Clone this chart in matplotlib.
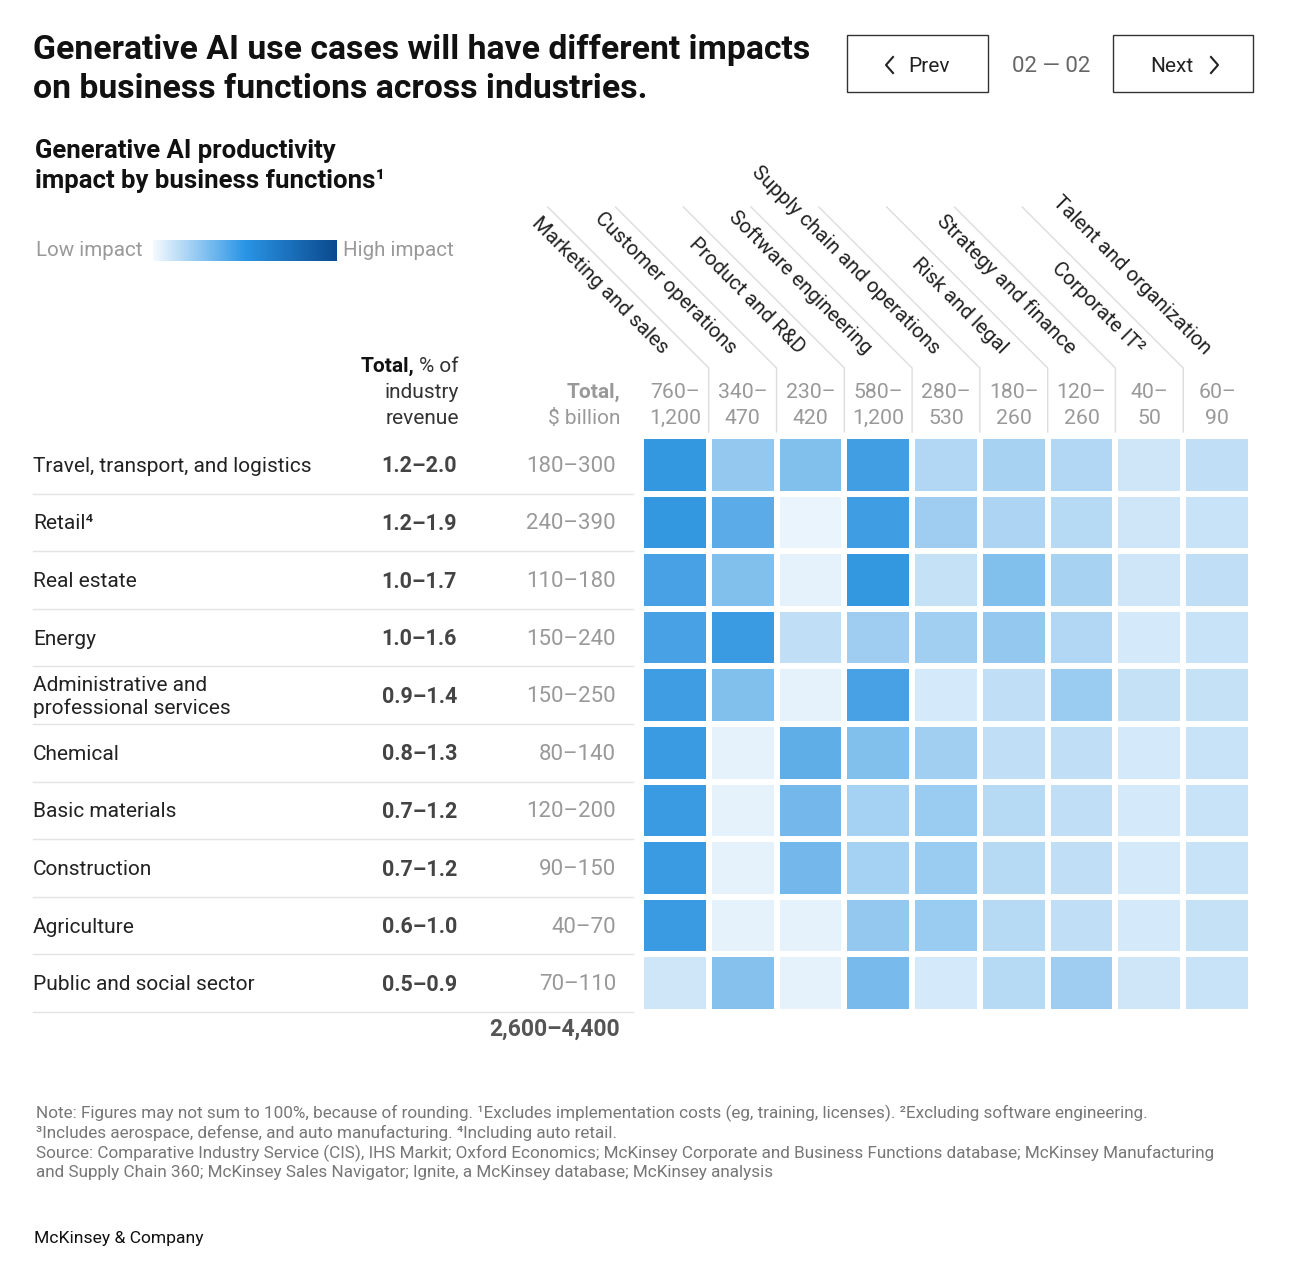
import matplotlib.pyplot as plt
from matplotlib.colors import LinearSegmentedColormap
from matplotlib.patches import Rectangle
import numpy as np

plt.rcParams['font.family'] = ['Roboto', 'DejaVu Sans']

W, H = 1292, 1267

industries = ["Travel, transport, and logistics", "Retail\u2074", "Real estate", "Energy",
              "Administrative and\nprofessional services", "Chemical", "Basic materials",
              "Construction", "Agriculture", "Public and social sector"]
pct_revenue = ["1.2\u20132.0", "1.2\u20131.9", "1.0\u20131.7", "1.0\u20131.6", "0.9\u20131.4",
               "0.8\u20131.3", "0.7\u20131.2", "0.7\u20131.2", "0.6\u20131.0", "0.5\u20130.9"]
usd_total = ["180\u2013300", "240\u2013390", "110\u2013180", "150\u2013240", "150\u2013250",
             "80\u2013140", "120\u2013200", "90\u2013150", "40\u201370", "70\u2013110"]
grand_total = "2,600\u20134,400"

functions = ["Marketing and sales", "Customer operations", "Product and R&D",
             "Software engineering", "Supply chain and operations", "Risk and legal",
             "Strategy and finance", "Corporate IT\u00b2", "Talent and organization"]
func_total = ["760\u2013\n1,200", "340\u2013\n470", "230\u2013\n420", "580\u2013\n1,200",
              "280\u2013\n530", "180\u2013\n260", "120\u2013\n260", "40\u2013\n50", "60\u2013\n90"]

# impact index read from the cell shading, 0 = lightest, 1 = darkest cell
impact = np.array([
    [0.95, 0.45, 0.55, 0.88, 0.30, 0.35, 0.30, 0.15, 0.22],
    [0.95, 0.75, 0.00, 0.90, 0.40, 0.32, 0.27, 0.15, 0.18],
    [0.85, 0.55, 0.02, 0.95, 0.20, 0.55, 0.35, 0.15, 0.22],
    [0.85, 0.92, 0.22, 0.40, 0.38, 0.45, 0.30, 0.12, 0.18],
    [0.90, 0.55, 0.02, 0.85, 0.12, 0.22, 0.42, 0.20, 0.20],
    [0.92, 0.02, 0.72, 0.55, 0.38, 0.22, 0.22, 0.12, 0.18],
    [0.92, 0.02, 0.62, 0.36, 0.42, 0.27, 0.22, 0.12, 0.18],
    [0.92, 0.02, 0.62, 0.36, 0.42, 0.27, 0.22, 0.12, 0.18],
    [0.92, 0.03, 0.03, 0.45, 0.42, 0.27, 0.22, 0.12, 0.20],
    [0.15, 0.52, 0.03, 0.60, 0.12, 0.27, 0.40, 0.15, 0.18],
])

cell_cmap = LinearSegmentedColormap.from_list("cells", ["#eaf4fc", "#2b93e0"])
legend_cmap = LinearSegmentedColormap.from_list("leg", ["#f5fafe", "#2a95e6", "#0b4a8e"])

fig = plt.figure(figsize=(W / 100, H / 100), dpi=100)
ax0 = fig.add_axes([0, 0, 1, 1])
ax0.set_xlim(0, W)
ax0.set_ylim(H, 0)
ax0.axis('off')

# heatmap grid
gx0, gx1, gy0, gy1 = 641, 1251, 436, 1012
hm = fig.add_axes([gx0 / W, 1 - gy1 / H, (gx1 - gx0) / W, (gy1 - gy0) / H])
hm.pcolormesh(impact, cmap=cell_cmap, vmin=0, vmax=1, edgecolors='white', linewidth=3)
hm.set_xlim(0, impact.shape[1])
hm.set_ylim(impact.shape[0], 0)
hm.axis('off')

colw = (gx1 - gx0) / len(functions)
rowh = (gy1 - gy0) / len(industries)
xb = [gx0 + j * colw for j in range(len(functions) + 1)]

# title
ax0.text(33, 69, "Generative AI use cases will have different impacts\non business functions across industries.",
         fontsize=24.3, fontweight='bold', color='#111111', va='center', linespacing=1.28)

# nav buttons
for bx0, bx1 in [(847, 988), (1113, 1253)]:
    ax0.add_patch(Rectangle((bx0, 35), bx1 - bx0, 57, fill=False, edgecolor='#333333', lw=1))
ax0.plot([893, 886, 893], [57, 65, 73], color='#222222', lw=1.5)
ax0.text(908, 66, "Prev", fontsize=15, va='center', color='#222222')
ax0.plot([1211, 1218, 1211], [57, 65, 73], color='#222222', lw=1.5)
ax0.text(1150, 66, "Next", fontsize=15, va='center', color='#222222')
ax0.text(1051, 66, "02 \u2014 02", fontsize=16, va='center', ha='center', color='#666666')

# subtitle and legend
ax0.text(35, 166, "Generative AI productivity\nimpact by business functions\u00b9",
         fontsize=18.5, fontweight='bold', color='#111111', va='center', linespacing=1.25)
ax0.text(36, 250, "Low impact", fontsize=14.8, color='#999999', va='center')
ax0.text(343, 250, "High impact", fontsize=14.8, color='#999999', va='center')
lg = fig.add_axes([153 / W, 1 - 261 / H, 184 / W, 21 / H])
lg.imshow(np.linspace(0, 1, 256)[None, :], aspect='auto', cmap=legend_cmap)
lg.axis('off')

# left column headers
renderer = fig.canvas.get_renderer()
t = ax0.text(459, 366, "% of", fontsize=15, color='#333333', ha='right', va='center')
w_pct = t.get_window_extent(renderer).width
ax0.text(459 - w_pct - 5, 366, "Total,", fontsize=15, fontweight='bold', color='#111111',
         ha='right', va='center')
ax0.text(459, 392, "industry", fontsize=15, color='#333333', ha='right', va='center')
ax0.text(459, 418, "revenue", fontsize=15, color='#333333', ha='right', va='center')
ax0.text(620, 392, "Total,", fontsize=15, fontweight='bold', color='#999999', ha='right', va='center')
ax0.text(620, 418, "$ billion", fontsize=15, color='#999999', ha='right', va='center')

# column headers
for j, name in enumerate(functions):
    right = xb[j + 1]
    cx = (xb[j] + xb[j + 1]) / 2
    ax0.text(right - 47, 355, name, fontsize=14.8, rotation=-45, rotation_mode='anchor',
             ha='right', va='baseline', color='#222222')
    ax0.text(cx, 392, func_total[j].split("\n")[0], fontsize=15.3, color='#999999',
             ha='center', va='center')
    ax0.text(cx, 418, func_total[j].split("\n")[1], fontsize=15.3, color='#999999',
             ha='center', va='center')
for j in range(1, len(functions)):
    ax0.plot([xb[j], xb[j], xb[j] - 161], [432, 368, 207], color='#dddddd', lw=1)

# rows
for i, name in enumerate(industries):
    cy = gy0 + (i + 0.5) * rowh + 1.5
    ax0.text(33, cy, name, fontsize=15, color='#222222', va='center', linespacing=1.2)
    ax0.text(457, cy, pct_revenue[i], fontsize=15.5, fontweight='bold', color='#444444',
             ha='right', va='center')
    ax0.text(616, cy, usd_total[i], fontsize=16, color='#999999', ha='right', va='center')
    ax0.plot([33, 633], [gy0 + (i + 1) * rowh, gy0 + (i + 1) * rowh], color='#e3e3e3', lw=1)
ax0.text(620, 1029, grand_total, fontsize=16.5, fontweight='bold', color='#555555',
         ha='right', va='center')

# notes
notes = ["Note: Figures may not sum to 100%, because of rounding. \u00b9Excludes implementation costs (eg, training, licenses). \u00b2Excluding software engineering.",
         "\u00b3Includes aerospace, defense, and auto manufacturing. \u2074Including auto retail.",
         "Source: Comparative Industry Service (CIS), IHS Markit; Oxford Economics; McKinsey Corporate and Business Functions database; McKinsey Manufacturing",
         "and Supply Chain 360; McKinsey Sales Navigator; Ignite, a McKinsey database; McKinsey analysis"]
for k, line in enumerate(notes):
    ax0.text(36, 1113 + k * 20, line, fontsize=12.3, color='#777777', va='center')
ax0.text(34, 1238, "McKinsey & Company", fontsize=12.6, color='#111111', va='center')

fig.savefig("out.png", dpi=100)
